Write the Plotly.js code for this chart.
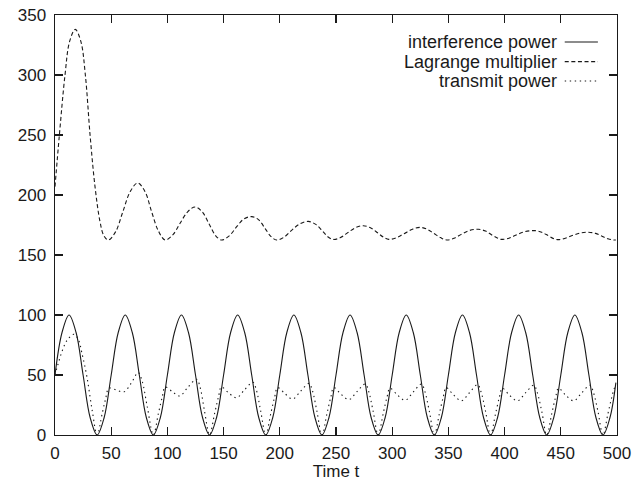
<!DOCTYPE html>
<html>
<head>
<meta charset="utf-8">
<script src="https://cdn.plot.ly/plotly-3.0.1.min.js"></script>
<style>
  html, body { margin: 0; padding: 0; background: #fff; }
  #chart { width: 641px; height: 481px; }
</style>
</head>
<body>
<div id="chart"></div>
<script>
// ---- data ----
var seriesNames = ["interference power", "Lagrange multiplier", "transmit power"];

// interference power (solid)
var tInterf = [0, 6.25, 12.5, 18.75, 25, 31.25, 37.5, 43.75,
  50, 56.25, 62.5, 68.75, 75, 81.25, 87.5, 93.75,
  100, 106.25, 112.5, 118.75, 125, 131.25, 137.5, 143.75,
  150, 156.25, 162.5, 168.75, 175, 181.25, 187.5, 193.75,
  200, 206.25, 212.5, 218.75, 225, 231.25, 237.5, 243.75,
  250, 256.25, 262.5, 268.75, 275, 281.25, 287.5, 293.75,
  300, 306.25, 312.5, 318.75, 325, 331.25, 337.5, 343.75,
  350, 356.25, 362.5, 368.75, 375, 381.25, 387.5, 393.75,
  400, 406.25, 412.5, 418.75, 425, 431.25, 437.5, 443.75,
  450, 456.25, 462.5, 468.75, 475, 481.25, 487.5, 493.75, 499];
var vInterf = [50, 85.4, 100, 85.4, 50, 14.6, 0, 14.6,
  50, 85.4, 100, 85.4, 50, 14.6, 0, 14.6,
  50, 85.4, 100, 85.4, 50, 14.6, 0, 14.6,
  50, 85.4, 100, 85.4, 50, 14.6, 0, 14.6,
  50, 85.4, 100, 85.4, 50, 14.6, 0, 14.6,
  50, 85.4, 100, 85.4, 50, 14.6, 0, 14.6,
  50, 85.4, 100, 85.4, 50, 14.6, 0, 14.6,
  50, 85.4, 100, 85.4, 50, 14.6, 0, 14.6,
  50, 85.4, 100, 85.4, 50, 14.6, 0, 14.6,
  50, 85.4, 100, 85.4, 50, 14.6, 0, 14.6, 43.7];

// Lagrange multiplier (dashed)
var tLagr = [0, 3.9, 8.9, 13, 18, 23, 27, 31.2, 35.6, 40, 43.5, 47.5,
  54, 60, 67, 73.5, 80, 86, 92, 98,
  105, 111, 118, 124.6, 131, 137, 143, 148.3,
  155, 162, 168, 175, 181, 187, 192, 197.2,
  204, 211, 218, 225.4, 232, 238, 243, 247.6,
  254, 261, 268, 274.3, 281, 287, 292, 297,
  304, 311, 318, 324.7, 331, 337, 343, 348.5,
  355, 362, 369, 376.6, 383, 389, 394, 397.4,
  404, 411, 418, 427, 433, 439, 444, 447.8,
  454, 461, 468, 474.5, 481, 487, 492, 497, 499];
var vLagr = [207, 250, 300, 328, 338, 328, 300, 250, 207, 178, 166, 162.5,
  169.5, 185, 203, 210, 203, 186, 170, 162.5,
  167, 176, 186, 190, 186, 176, 166, 162.5,
  166, 174, 180, 182, 179.5, 172, 165.5, 162.5,
  165, 171, 176, 178, 175.5, 170, 165, 163,
  164.5, 169, 173, 174.4, 172.5, 168.5, 165, 163,
  164.5, 168, 171.5, 173, 171.5, 168, 164.5, 162.5,
  164, 167.5, 170.5, 171.4, 170, 166.5, 164, 163,
  164, 167, 169.5, 170.3, 169, 166, 163.5, 162.8,
  164, 166.5, 168.5, 169, 168, 165.5, 163.5, 162.5, 162.5];

// transmit power (dotted)
var tTrans = [0, 3, 6, 9, 12, 17, 21, 24, 28.5, 33, 37.5,
  42, 45, 48, 54.5, 61.5, 68, 74, 77.5, 82, 87.5,
  92, 95.5, 98, 104.5, 111, 118, 126, 129, 133, 137.5,
  142, 145.5, 148, 154.5, 161.5, 168.5, 176, 179, 183, 187.5,
  192, 195.5, 198, 204.5, 211.5, 218.5, 226, 229, 233, 237.5,
  242, 245.5, 248, 254.5, 261.5, 268.5, 276, 279, 283, 287.5,
  292, 295.5, 298, 304.5, 311.5, 318.5, 326, 329, 333, 337.5,
  342, 345.5, 348, 354.5, 361.5, 368.5, 376, 379, 383, 387.5,
  392, 395.5, 398, 404.5, 411.5, 418.5, 426, 429, 433, 437.5,
  442, 445.5, 448, 454.5, 461.5, 468.5, 476, 479, 483, 487.5,
  492, 495.5, 498, 499];
var vTrans = [50, 60, 69, 76, 80.5, 84, 79, 68, 48, 21, 0,
  18, 30, 39, 37.5, 36, 43.5, 52, 45, 24, 0,
  18, 32, 40, 36, 32.5, 39.5, 46.5, 40, 20, 0,
  18, 32, 40, 35, 31, 37.5, 44, 38, 20, 0,
  18, 32, 39.5, 34.5, 30, 36.5, 43, 37, 20, 0,
  18, 32, 39.5, 34, 29.5, 36, 42.5, 36.5, 20, 0,
  18, 32, 39, 33.5, 29, 35.5, 42.5, 36.5, 20, 0,
  18, 32, 39.5, 33.5, 28.5, 35, 42, 36, 20, 0,
  18, 32, 39, 33, 28.5, 35, 41.5, 35.5, 20, 0,
  18, 32, 39, 33, 28.5, 35, 41.5, 35.5, 20, 0,
  18, 32, 39.5, 40];

var xTicks = [0, 50, 100, 150, 200, 250, 300, 350, 400, 450, 500];
var yTicks = [0, 50, 100, 150, 200, 250, 300, 350];
var xTitle = "Time t";

// ---- styles ----
var FONT = "Liberation Sans, Arial, Helvetica, sans-serif";
var INK = "#1a1a1a";
var dashes = ["solid", "4px,2.6px", "1.4px,3.6px"];

var traces = [
  {x: tInterf, y: vInterf, name: seriesNames[0]},
  {x: tLagr, y: vLagr, name: seriesNames[1]},
  {x: tTrans, y: vTrans, name: seriesNames[2]}
].map(function (tr, i) {
  tr.type = "scatter";
  tr.mode = "lines";
  tr.showlegend = false;
  tr.line = {color: INK, width: 1.1, dash: dashes[i], shape: "spline", smoothing: 1};
  tr.hoverinfo = "skip";
  return tr;
});

// gnuplot-style key: right-aligned text, line sample on its right
var keyRowsY = [0.9357, 0.889, 0.843];
var annotations = seriesNames.map(function (nm, i) {
  return {xref: "paper", yref: "paper", x: 0.897, y: keyRowsY[i],
    xanchor: "right", yanchor: "middle", showarrow: false, text: nm,
    font: {family: FONT, size: 18, color: INK}};
});
var shapes = seriesNames.map(function (nm, i) {
  return {type: "line", xref: "paper", yref: "paper",
    x0: 0.907, x1: 0.966, y0: keyRowsY[i], y1: keyRowsY[i],
    line: {color: INK, width: 1.1, dash: dashes[i]}};
});

var axisCommon = {
  showgrid: false, zeroline: false,
  showline: true, linecolor: INK, linewidth: 1.4, mirror: "allticks",
  ticks: "inside", ticklen: 8, tickwidth: 1.2, tickcolor: INK,
  tickfont: {family: FONT, size: 17, color: INK},
  fixedrange: true
};

var layout = {
  width: 641, height: 481,
  margin: {l: 55, r: 24, t: 15, b: 46, pad: 0},
  paper_bgcolor: "#fff", plot_bgcolor: "#fff",
  showlegend: false,
  xaxis: Object.assign({}, axisCommon, {
    range: [0, 500], tickmode: "array", tickvals: xTicks,
    ticktext: xTicks.map(String), ticklabelstandoff: 2,
    title: {text: xTitle, font: {family: FONT, size: 17, color: INK}, standoff: 2}
  }),
  yaxis: Object.assign({}, axisCommon, {
    range: [0, 350], tickmode: "array", tickvals: yTicks,
    ticktext: yTicks.map(String), ticklabelstandoff: 4
  }),
  annotations: annotations,
  shapes: shapes
};

Plotly.newPlot("chart", traces, layout, {staticPlot: true, displayModeBar: false});
</script>
</body>
</html>
